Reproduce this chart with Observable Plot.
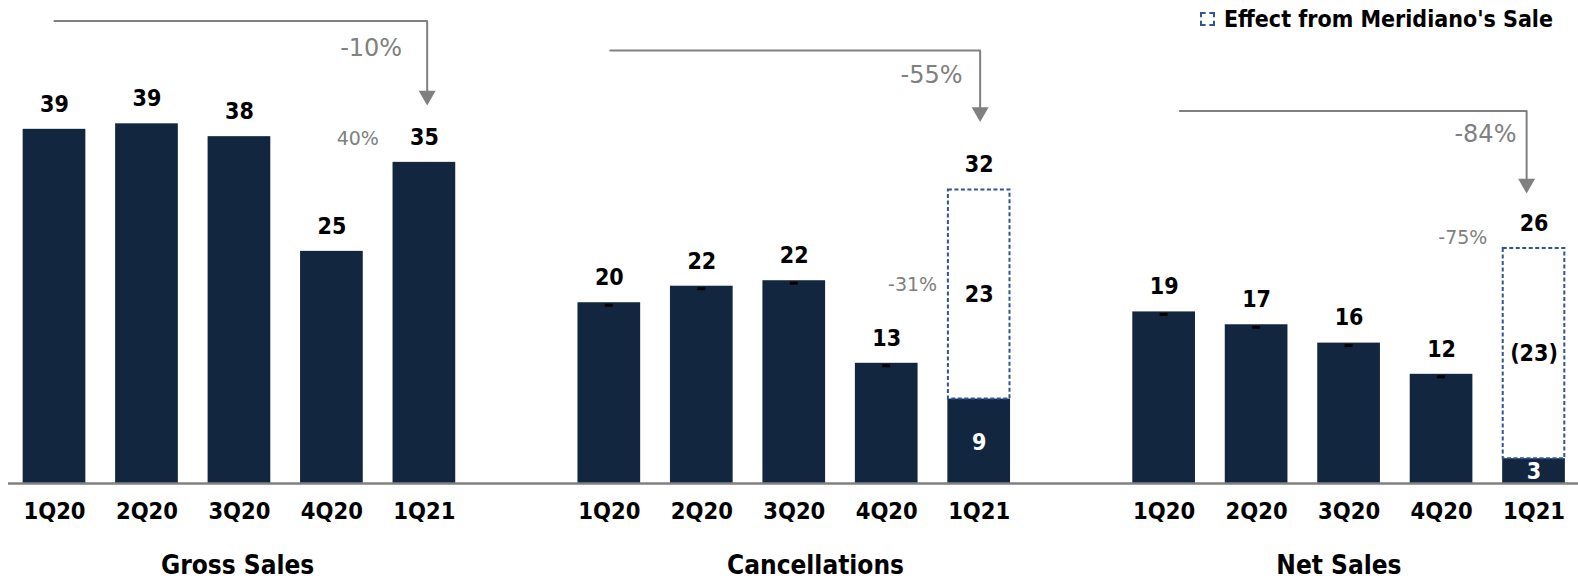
<!DOCTYPE html>
<html>
<head>
<meta charset="utf-8">
<script src="https://cdn.jsdelivr.net/npm/d3@7"></script>
<script src="https://cdn.jsdelivr.net/npm/@observablehq/plot@0.6"></script>
<style>
  html, body { margin: 0; padding: 0; background: #fff; overflow: hidden; }
  #wrap { position: relative; width: 1578px; height: 580px; }
  #legend { position: absolute; top: 6px; right: 25px; display: flex; align-items: center; gap: 9px;
            font-family: "DejaVu Sans Condensed", "DejaVu Sans", sans-serif; font-weight: bold; font-size: 23px; color: #000; }
  #legend .sw { width: 11px; height: 10px; border: 2px dashed #2F5597; }
</style>
</head>
<body>
<div id="wrap">
  <div id="legend"><span class="sw"></span><span>Effect from Meridiano's Sale</span></div>
</div>
<script>
// ---- data ----
const groups = ["Gross Sales", "Cancellations", "Net Sales"];
const quarters = ["1Q20", "2Q20", "3Q20", "4Q20", "1Q21"];
const grossSales = [38.6, 39.2, 37.8, 25.3, 35.0];
const cancellations = [19.7, 21.5, 22.1, 13.1, 9.2];
const netSales = [18.7, 17.3, 15.3, 11.9, 2.7];
const grossLabels = ["39", "39", "38", "25", "35"];
const cancLabels = ["20", "22", "22", "13", "9"];
const netLabels = ["19", "17", "16", "12", "3"];
// Effect from Meridiano's sale on 1Q21 (cancellations, net sales)
const effectValues = [22.8, 22.9];
const effectLabels = ["23", "(23)"];
const effectTotals = ["32", "26"];
// YoY change arrows (1Q20 -> 1Q21)
const yoyLabels = ["-10%", "-55%", "-84%"];
const yoyArrowTop = [50.4, 47.2, 40.6];
const yoyArrowTip = [41.2, 39.4, 31.6];
const yoyArrowFrom = [0.0, 6.01, 12.17];
const yoyArrowTo = [4.03, 10.01, 15.92];
const yoyLabelX = [3.76, 9.82, 15.81];
const yoyLabelY = [47.4, 44.5, 38.1];
// QoQ change labels (4Q20 -> 1Q21)
const qoqLabels = ["40%", "-31%", "-75%"];
const qoqLabelX = [3.28, 9.28, 15.23];
const qoqLabelY = [37.6, 21.6, 26.8];
const groupLabelX = [1.98, 8.23, 13.89];

// ---- derived tables ----
const series = [grossSales, cancellations, netSales];
const seriesLabels = [grossLabels, cancLabels, netLabels];
const bars = [];
series.forEach((vals, g) => vals.forEach((v, q) => bars.push({
  g, q, i: g * 6 + q, v, label: seriesLabels[g][q], quarter: quarters[q],
  boxed: g > 0 && q === 4
})));
const boxes = effectValues.map((e, k) => {
  const b = bars.find(d => d.g === k + 1 && d.q === 4);
  return {i: b.i, y1: b.v, y2: b.v + e, label: effectLabels[k], total: effectTotals[k]};
});
const arrowPts = [];
yoyLabels.forEach((_, k) => {
  arrowPts.push({a: k, x: yoyArrowFrom[k], y: yoyArrowTop[k]});
  arrowPts.push({a: k, x: yoyArrowTo[k], y: yoyArrowTop[k]});
  arrowPts.push({a: k, x: yoyArrowTo[k], y: yoyArrowTip[k] + 1.2});
});
const arrowHeads = yoyLabels.map((_, k) => ({x: yoyArrowTo[k], y: yoyArrowTip[k]}));
const yoy = yoyLabels.map((t, k) => ({t, x: yoyLabelX[k], y: yoyLabelY[k]}));
const qoq = qoqLabels.map((t, k) => ({t, x: qoqLabelX[k], y: qoqLabelY[k]}));
const groupTitles = groups.map((t, k) => ({t, x: groupLabelX[k]}));

const navy = "#13263f", grey = "#808080", blue = "#2F5597";
const hw = 0.339; // half bar width in slot units
const font = "DejaVu Sans";
const boldFont = "'DejaVu Sans Condensed', 'DejaVu Sans', sans-serif";

const chart = Plot.plot({
  width: 1578, height: 580,
  marginLeft: 0, marginRight: 0, marginTop: 0, marginBottom: 97,
  x: {type: "linear", domain: [-0.584, 16.481], axis: null},
  y: {domain: [0, 52.64], axis: null},
  style: {fontFamily: font, background: "white", overflow: "visible"},
  marks: [
    Plot.rectY(bars, {x1: d => d.i - hw, x2: d => d.i + hw, y1: 0, y2: "v", fill: navy}),
    Plot.rect(boxes, {x1: d => d.i - hw + 0.006, x2: d => d.i + hw - 0.006, y1: "y1", y2: "y2",
      fill: "none", stroke: blue, strokeWidth: 2, strokeDasharray: "4,2.5"}),
    // small markers on top of cancellations / net sales bars
    Plot.ruleY(bars.filter(d => d.g > 0 && d.q < 4), {y: "v", x1: d => d.i - 0.043, x2: d => d.i + 0.043,
      dy: 2.5, stroke: "#000", strokeWidth: 3}),
    Plot.ruleY([0], {stroke: grey, strokeWidth: 2.5, insetLeft: 8}),
    // value labels above bars
    Plot.text(bars.filter(d => !d.boxed), {x: "i", y: "v", text: "label", dy: -25,
      fontFamily: boldFont, fontSize: 23, fontWeight: "bold", fill: "#000"}),
    // inside labels for boxed 1Q21 bars
    Plot.text(bars.filter(d => d.boxed), {x: "i", y: d => d.v / 2, text: "label", dy: 1,
      fontFamily: boldFont, fontSize: 23, fontWeight: "bold", fill: "#fff"}),
    Plot.text(boxes, {x: "i", y: d => (d.y1 + d.y2) / 2, text: "label",
      fontFamily: boldFont, fontSize: 23, fontWeight: "bold", fill: "#000"}),
    Plot.text(boxes, {x: "i", y: "y2", text: "total", dy: -25,
      fontFamily: boldFont, fontSize: 23, fontWeight: "bold", fill: "#000"}),
    // x tick labels and group titles
    Plot.text(bars, {x: "i", y: 0, text: "quarter", dy: 28,
      fontFamily: boldFont, fontSize: 23.5, fontWeight: "bold", fill: "#000"}),
    Plot.text(groupTitles, {x: "x", y: 0, text: "t", dy: 82,
      fontFamily: boldFont, fontSize: 26, fontWeight: "bold", fill: "#000"}),
    // YoY arrows
    Plot.line(arrowPts, {x: "x", y: "y", z: "a", stroke: grey, strokeWidth: 2, curve: "linear"}),
    Plot.dot(arrowHeads, {x: "x", y: "y", symbol: "triangle", rotate: 180, r: 6.3, dy: -9.8, fill: grey, stroke: "none"}),
    Plot.text(yoy, {x: "x", y: "y", text: "t", textAnchor: "end", fontSize: 24, fill: grey}),
    Plot.text(qoq, {x: "x", y: "y", text: "t", fontSize: 19, fill: grey})
  ]
});
document.getElementById("wrap").prepend(chart);
</script>
</body>
</html>
